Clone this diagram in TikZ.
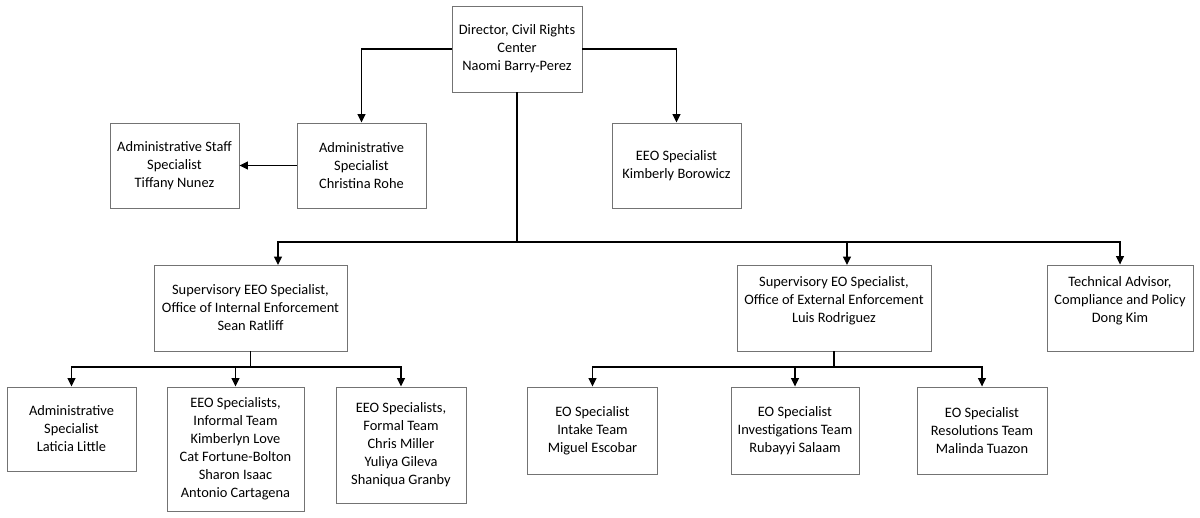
\documentclass[tikz,border=0pt]{standalone}
\usepackage{fontspec}
\setmainfont{Carlito}
\usetikzlibrary{arrows.meta}

\begin{document}
\begin{tikzpicture}[x=1pt, y=-1pt, line width=1.3pt, >={Triangle[length=8.5pt,width=8pt]},
	box/.style={draw=black!55, line width=0.9pt, align=center, inner sep=0pt, font=\fontsize{14.4}{18}\selectfont}]
	\useasboundingbox (0,0) rectangle (1200,517);

	\node[box, minimum width=130pt, minimum height=86pt] (dir) at (517,49) {Director, Civil Rights\\Center\\Naomi Barry-Perez};
	\node[box, minimum width=129pt, minimum height=85pt] (adm) at (361.5,165.5) {Administrative\\Specialist\\Christina Rohe};
	\node[box, minimum width=129pt, minimum height=85pt] (staff) at (174.5,165.5) {Administrative Staff\\Specialist\\Tiffany Nunez};
	\node[box, minimum width=129pt, minimum height=85pt] (eeo) at (676.5,165.5) {EEO Specialist\\Kimberly Borowicz};

	\node[box, minimum width=193pt, minimum height=86pt] (seeo) at (250.5,308) {Supervisory EEO Specialist,\\Office of Internal Enforcement\\Sean Ratliff};
	\node[box, minimum width=194pt, minimum height=86pt] (seo) at (834,308) {Supervisory EO Specialist,\\Office of External Enforcement\\Luis Rodriguez\\\mbox{}};
	\node[box, minimum width=146pt, minimum height=86pt] (tech) at (1120,308) {Technical Advisor,\\Compliance and Policy\\Dong Kim\\\mbox{}};

	\node[box, minimum width=129pt, minimum height=84pt] (lat) at (71.5,429) {Administrative\\Specialist\\Laticia Little};
	\node[box, minimum width=137pt, minimum height=124pt] (inf) at (235.5,449) {EEO Specialists,\\Informal Team\\Kimberlyn Love\\Cat Fortune-Bolton\\Sharon Isaac\\Antonio Cartagena};
	\node[box, minimum width=130pt, minimum height=116pt] (form) at (401,445) {EEO Specialists,\\Formal Team\\Chris Miller\\Yuliya Gileva\\Shaniqua Granby};
	\node[box, minimum width=130pt, minimum height=87pt] (intake) at (592.5,430.5) {EO Specialist\\Intake Team\\Miguel Escobar};
	\node[box, minimum width=128pt, minimum height=87pt] (inv) at (795,430.5) {EO Specialist\\Investigations Team\\Rubayyi Salaam};
	\node[box, minimum width=130pt, minimum height=87pt] (res) at (982,430.5) {EO Specialist\\Resolutions Team\\Malinda Tuazon};

	\coordinate (hub) at (517,242);
	\coordinate (inL) at (278,265);
	\coordinate (inM) at (847,265);
	\coordinate (subL) at (250.5,367);
	\coordinate (subR) at (834,367);

	\draw[->] (dir.west) -| (adm);
	\draw[->] (dir.east) -| (eeo);
	\draw[->] (adm) -- (staff);

	\draw (dir) -- (hub);
	\draw[->] (hub) -| (inL);
	\draw[->] (hub) -| (inM);
	\draw[->] (hub) -| (tech);

	\draw (seeo) -- (subL);
	\draw[->] (subL) -| (lat);
	\draw[->] (subL) -| (inf);
	\draw[->] (subL) -| (form);

	\draw (seo) -- (subR);
	\draw[->] (subR) -| (intake);
	\draw[->] (subR) -| (inv);
	\draw[->] (subR) -| (res);
\end{tikzpicture}
\end{document}
